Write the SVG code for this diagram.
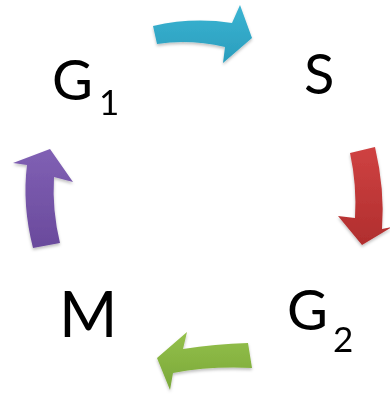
<svg xmlns="http://www.w3.org/2000/svg" width="390" height="394" viewBox="0 0 390 394">
  <style>
    .lbl { font-family: Lato, "Open Sans", "Liberation Sans", sans-serif; fill: #000; }
    .big { font-size: 56px; }
    .sub { font-size: 35px; }
    .arrow { filter: url(#soft); }
  </style>
  <defs>
    <filter id="soft" x="-20%" y="-20%" width="140%" height="150%">
      <feDropShadow dx="0" dy="2" stdDeviation="1.5" flood-color="#000" flood-opacity="0.25"/>
    </filter>
    <linearGradient id="gBlue" x1="0" y1="0" x2="0" y2="1">
      <stop offset="0" stop-color="#3bb4d2"/>
      <stop offset="1" stop-color="#2a9dbd"/>
    </linearGradient>
    <linearGradient id="gRed" x1="0" y1="0" x2="0" y2="1">
      <stop offset="0" stop-color="#cf4242"/>
      <stop offset="1" stop-color="#b02e2e"/>
    </linearGradient>
    <linearGradient id="gGreen" x1="0" y1="0" x2="0" y2="1">
      <stop offset="0" stop-color="#94c04a"/>
      <stop offset="1" stop-color="#7aa83a"/>
    </linearGradient>
    <linearGradient id="gPurple" x1="0" y1="0" x2="0" y2="1">
      <stop offset="0" stop-color="#8060b4"/>
      <stop offset="1" stop-color="#6a4a9c"/>
    </linearGradient>
  </defs>

  <!-- curved arrows of the cycle -->
  <g id="connectors">
    <path class="arrow" fill="url(#gBlue)" d="M153,26 Q192,17 232,23 L240,5 L252,38 L223,63 L225,47 Q190,39 157,44 Z"/>
    <path class="arrow" fill="url(#gRed)" d="M350,153 L375,147 Q385,190 382,229 L392,227 L362,245 L338,216 L355,218 Q357,185 350,153 Z"/>
    <path class="arrow" fill="url(#gGreen)" d="M248,343 Q215,344 183,349 L187,332 L157,358 L170,390 L173,373 Q210,366 252,368 Z"/>
    <path class="arrow" fill="url(#gPurple)" d="M33,248 Q22,205 27,165 L13,163 L50,149 L73,182 L54,177 Q52,210 60,243 Z"/>
  </g>

  <!-- stage labels (grouped with opacity so glyphs render in greyscale) -->
  <g opacity="0.999">
    <g id="G1">
      <text class="lbl big" x="52" y="100">G</text>
      <text class="lbl sub" x="99" y="115">1</text>
    </g>
    <g id="S">
      <text class="lbl big" x="304" y="94">S</text>
    </g>
    <g id="G2">
      <text class="lbl big" x="287" y="330">G</text>
      <text class="lbl sub" x="333" y="352">2</text>
    </g>
    <g id="M">
      <text class="lbl" style="font-size:63px" x="59" y="337">M</text>
    </g>
  </g>
</svg>
